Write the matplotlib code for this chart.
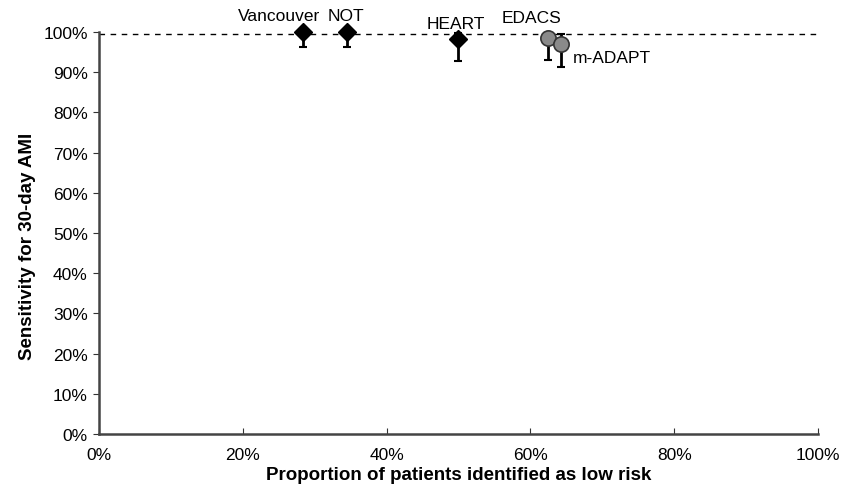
import numpy as np
import matplotlib.pyplot as plt
from matplotlib.ticker import PercentFormatter

plt.rcParams['font.family'] = ['Liberation Sans', 'DejaVu Sans']

# Decision rules: proportion classed low risk vs sensitivity (with 95% CI)
rules = ['Vancouver', 'NOT', 'HEART', 'EDACS', 'm-ADAPT']
low_risk = np.array([28.4, 34.5, 49.9, 62.5, 64.3])
sensitivity = np.array([100.0, 100.0, 98.3, 98.6, 97.1])
ci_low = np.array([96.3, 96.3, 92.8, 93.0, 91.2])
ci_high = np.array([100.0, 100.0, 99.7, 99.8, 99.6])
new_rule = [False, False, False, True, True]
target_sens = 99.5

fig = plt.figure(figsize=(8.41, 4.89), dpi=100)
ax = fig.add_axes([0.1177, 0.1104, 0.8550, 0.8221])

ax.axhline(target_sens, color='black', lw=1, ls=(0, (4, 4)), zorder=1)

for i, name in enumerate(rules):
    yerr = [[sensitivity[i] - ci_low[i]], [ci_high[i] - sensitivity[i]]]
    eb = ax.errorbar(low_risk[i], sensitivity[i], yerr=yerr, fmt='none',
                     ecolor='black', elinewidth=2, capsize=3, capthick=1.5,
                     zorder=2)
    for art in eb.lines[1] + eb.lines[2]:
        art.set_clip_on(False)
    if new_rule[i]:
        ax.plot(low_risk[i], sensitivity[i], 'o', ms=11, mfc='#8a8a8a',
                mec='#333333', mew=1.2, zorder=3, clip_on=False)
    else:
        ax.plot(low_risk[i], sensitivity[i], 'D', ms=9, mfc='black',
                mec='black', zorder=3, clip_on=False)

# rule names placed around the markers
label_pos = {
    'Vancouver': (-3.4, 4.2, 'center'),
    'NOT': (-0.2, 4.2, 'center'),
    'HEART': (-0.3, 3.8, 'center'),
    'EDACS': (-2.4, 5.0, 'center'),
    'm-ADAPT': (1.6, -3.4, 'left'),
}
for i, name in enumerate(rules):
    dx, dy, ha = label_pos[name]
    ax.text(low_risk[i] + dx, sensitivity[i] + dy, name, ha=ha, va='center',
            fontsize=12.5, clip_on=False)

ax.set_xlim(0, 100)
ax.set_ylim(0, 100)
ax.set_xticks(np.arange(0, 101, 20))
ax.set_yticks(np.arange(0, 101, 10))
ax.xaxis.set_major_formatter(PercentFormatter(decimals=0))
ax.yaxis.set_major_formatter(PercentFormatter(decimals=0))
ax.tick_params(axis='x', direction='in', length=4, labelsize=12.5, pad=9,
               color='#333333')
ax.tick_params(axis='y', direction='out', length=4, labelsize=12.5, pad=4,
               color='#333333')

for side in ['top', 'right']:
    ax.spines[side].set_visible(False)
for side in ['left', 'bottom']:
    ax.spines[side].set_linewidth(1.8)
    ax.spines[side].set_color('#444444')

ax.set_xlabel('Proportion of patients identified as low risk', fontsize=13.5,
              fontweight='bold', labelpad=3)
ax.set_ylabel('Sensitivity for 30-day AMI', fontsize=13.5, fontweight='bold')
ax.yaxis.set_label_coords(-0.088, 0.47)

fig.savefig('out.png', dpi=100)
